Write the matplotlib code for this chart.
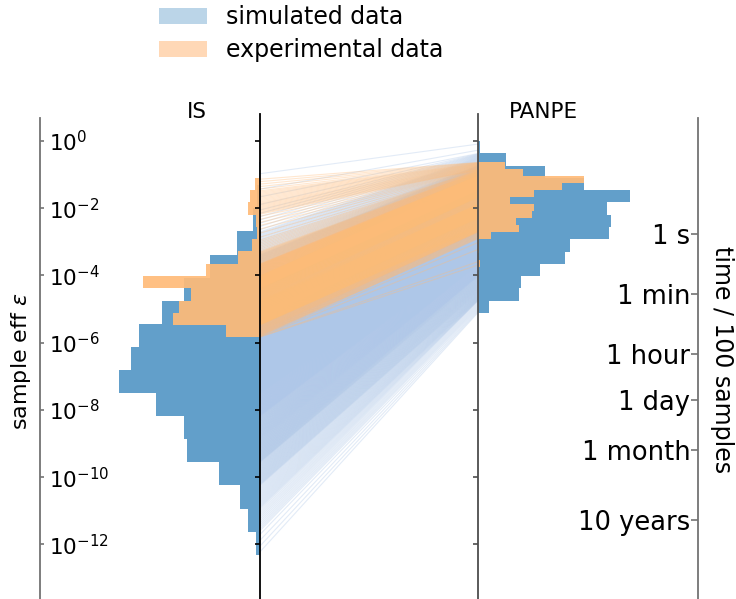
import numpy as np
import matplotlib
matplotlib.use("Agg")
import matplotlib.pyplot as plt
from matplotlib.collections import LineCollection
from matplotlib.patches import Patch
from matplotlib.ticker import FixedLocator, NullLocator

# ---------------------------------------------------------------------------
# Data: histogram counts on log10(sample efficiency) bins, lowest bin first.
# Each range is (lowest edge, highest edge) in log10 units.
# ---------------------------------------------------------------------------
is_sim_range = (-12.31, -0.63)
is_sim_counts = [4, 12, 20, 42, 75, 78, 106, 144, 132, 124, 100, 78, 51, 24, 7, 3, 1]

is_exp_range = (-5.84, -1.10)
is_exp_counts = [35, 89, 83, 70, 120, 55, 22, 8, 3, 4, 12, 10, 5]

panpe_sim_range = (-5.12, 0.0)
panpe_sim_counts = [10, 38, 40, 57, 80, 85, 121, 123, 119, 140, 98, 62, 26, 2]

panpe_exp_range = (-3.745, -0.634)
panpe_exp_counts = [2, 0, 1, 1, 12, 38, 35, 50, 52, 30, 52, 78, 98, 42, 25]

# Wall-clock time for 100 accepted samples
n_samples = 100
samples_per_second = 6e4
time_labels = ["1 s", "1 min", "1 hour", "1 day", "1 month", "10 years"]
time_seconds = [1, 60, 3600, 86400, 30 * 86400, 3650 * 86400]

eff_ticks = [1e0, 1e-2, 1e-4, 1e-6, 1e-8, 1e-10, 1e-12]
series_labels = ["simulated data", "experimental data"]

# ---------------------------------------------------------------------------
# Styling / layout
# ---------------------------------------------------------------------------
W, H, DPI = 736, 599, 100
C_SIM, C_EXP = "#1f77b4", "#ff7f0e"
C_SIM_LINE, C_EXP_LINE = "#aec7e8", "#ffbb78"

plt.rcParams["font.family"] = ["DejaVu Sans"]
plt.rcParams["mathtext.fontset"] = "dejavusans"

fig = plt.figure(figsize=(W / DPI, H / DPI), dpi=DPI)

px_per_decade = 33.61
y_ref = 141.0          # pixel row of 10^0
ax_top_px = 114.0
ylim_log = ((y_ref - H) / px_per_decade, (y_ref - ax_top_px) / px_per_decade)
ylim = (10 ** ylim_log[0], 10 ** ylim_log[1])
short_top = 10 ** ((y_ref - 118.0) / px_per_decade)
ax_h = (H - ax_top_px) / H


def make_ax(x0_px, x1_px):
    ax = fig.add_axes([x0_px / W, 0, (x1_px - x0_px) / W, ax_h])
    ax.set_yscale("log")
    ax.set_ylim(*ylim)
    ax.set_xticks([])
    ax.patch.set_alpha(0)
    for s in ("top", "bottom", "right"):
        ax.spines[s].set_visible(False)
    ax.spines["left"].set_linewidth(1.3)
    ax.yaxis.set_major_locator(FixedLocator(eff_ticks))
    ax.yaxis.set_minor_locator(NullLocator())
    return ax


def edges_of(rng, counts):
    return np.linspace(rng[0], rng[1], len(counts) + 1)


def expand(rng, counts):
    """Spread the samples of every bin evenly inside it, sorted ascending."""
    e = edges_of(rng, counts)
    vals = []
    for a, b, n in zip(e[:-1], e[1:], counts):
        if n:
            vals.extend(a + (np.arange(n) + 0.5) / n * (b - a))
    return 10 ** np.sort(np.array(vals))


# --- IS histogram (bars grow to the left) ----------------------------------
ax_is = make_ax(40, 260)
ax_is.set_xlim(224.7, 0)
ax_is.stairs(is_sim_counts, 10 ** edges_of(is_sim_range, is_sim_counts),
             orientation="horizontal", fill=True, color=C_SIM, alpha=0.7)
ax_is.stairs(is_exp_counts, 10 ** edges_of(is_exp_range, is_exp_counts),
             orientation="horizontal", fill=True, color=C_EXP_LINE, alpha=0.92)
ax_is.spines["left"].set_color("0.45")
ax_is.spines["left"].set_bounds(ylim[0], short_top)
ax_is.tick_params(axis="y", which="major", direction="in", length=3, width=1.2,
                  color="0.45", labelcolor="black", pad=-6.7, labelsize=15.5)
ax_is.set_yticklabels([f"$10^{{{int(np.log10(t))}}}$" for t in eff_ticks])
plt.setp(ax_is.get_yticklabels(), ha="left")

# --- connecting lines -------------------------------------------------------
ax_ln = make_ax(260, 478)
ax_ln.set_xlim(0, 1)
ax_ln.spines["left"].set_color("black")
ax_ln.tick_params(axis="y", which="major", direction="out", length=3.5, width=1.2,
                  color="black", labelleft=False)

for rng_is, c_is, rng_pp, c_pp, col in (
        (is_sim_range, is_sim_counts, panpe_sim_range, panpe_sim_counts, C_SIM_LINE),
        (is_exp_range, is_exp_counts, panpe_exp_range, panpe_exp_counts, C_EXP_LINE)):
    v_is = expand(rng_is, c_is)
    v_pp = expand(rng_pp, c_pp)
    n = min(len(v_is), len(v_pp))
    segs = [[(0, a), (1, b)] for a, b in zip(v_is[:n], v_pp[:n])]
    ax_ln.add_collection(LineCollection(segs, colors=col, linewidths=0.8, alpha=0.35))

# --- PANPE histogram (bars grow to the right) -------------------------------
ax_pp = make_ax(478, 698)
ax_pp.set_xlim(0, 203.1)
ax_pp.stairs(panpe_sim_counts, 10 ** edges_of(panpe_sim_range, panpe_sim_counts),
             orientation="horizontal", fill=True, color=C_SIM, alpha=0.7)
ax_pp.stairs(panpe_exp_counts, 10 ** edges_of(panpe_exp_range, panpe_exp_counts),
             orientation="horizontal", fill=True, color=C_EXP_LINE, alpha=0.92)
ax_pp.spines["left"].set_color("0.3")
ax_pp.tick_params(axis="y", which="major", direction="out", length=3.5, width=1.2,
                  color="0.3", labelleft=False)

# --- time axis ---------------------------------------------------------------
ax_tm = make_ax(698, 699)
ax_tm.spines["left"].set_color("0.45")
ax_tm.spines["left"].set_bounds(ylim[0], short_top)
time_eff = [n_samples / (samples_per_second * t) for t in time_seconds]
ax_tm.yaxis.set_major_locator(FixedLocator(time_eff))
ax_tm.set_yticklabels(time_labels)
ax_tm.tick_params(axis="y", which="major", direction="out", length=5, width=1.2,
                  color="0.45", labelcolor="black", labelsize=18.5, pad=0.5)

# --- text --------------------------------------------------------------------
fig.text(196.7 / W, 1 - 117.7 / H, "IS", ha="center", va="baseline", fontsize=15.5)
fig.text(543 / W, 1 - 117.7 / H, "PANPE", ha="center", va="baseline", fontsize=15.5)
fig.text(21 / W, 1 - 361 / H, r"sample eff $\varepsilon$", rotation=90,
         ha="center", va="center", fontsize=16)
fig.text(722 / W, 1 - 360 / H, "time / 100 samples", rotation=270,
         ha="center", va="center", fontsize=17)

handles = [Patch(facecolor=C_SIM, alpha=0.3), Patch(facecolor=C_EXP, alpha=0.3)]
fig.legend(handles, series_labels, loc="upper left",
           bbox_to_anchor=(150 / W, 1 + 4 / H), frameon=False, fontsize=17,
           labelspacing=0.37, borderaxespad=0)

fig.savefig("out.png", dpi=DPI)
